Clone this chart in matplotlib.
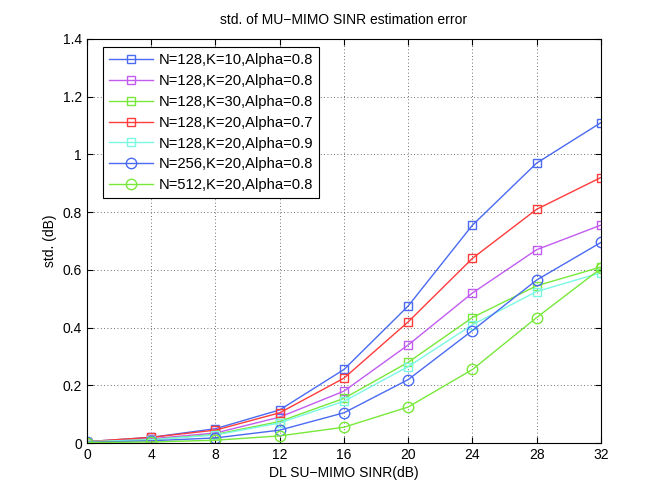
import matplotlib
matplotlib.use("Agg")
import matplotlib.pyplot as plt

plt.rcParams['font.family'] = ['Liberation Sans', 'DejaVu Sans']

snr = [0, 4, 8, 12, 16, 20, 24, 28, 32]
labels = ["N=128,K=10,Alpha=0.8", "N=128,K=20,Alpha=0.8", "N=128,K=30,Alpha=0.8",
          "N=128,K=20,Alpha=0.7", "N=128,K=20,Alpha=0.9", "N=256,K=20,Alpha=0.8",
          "N=512,K=20,Alpha=0.8"]
s1 = [0.005, 0.020, 0.050, 0.115, 0.255, 0.475, 0.755, 0.970, 1.110]
s2 = [0.005, 0.015, 0.035, 0.090, 0.180, 0.340, 0.520, 0.670, 0.755]
s3 = [0.005, 0.012, 0.030, 0.075, 0.155, 0.280, 0.435, 0.545, 0.610]
s4 = [0.005, 0.020, 0.045, 0.105, 0.225, 0.420, 0.640, 0.810, 0.920]
s5 = [0.005, 0.012, 0.028, 0.070, 0.145, 0.265, 0.410, 0.525, 0.590]
s6 = [0.003, 0.008, 0.018, 0.045, 0.105, 0.220, 0.390, 0.565, 0.695]
s7 = [0.002, 0.004, 0.010, 0.025, 0.055, 0.125, 0.255, 0.435, 0.605]
series = [s1, s2, s3, s4, s5, s6, s7]
colors = ['#4a6af2', '#c25cf0', '#78e83a', '#ff3b3b', '#7af8e4', '#4a6af2', '#78e83a']
markers = ['s', 's', 's', 's', 's', 'o', 'o']

fig = plt.figure(figsize=(6.64, 4.99), dpi=100)
ax = fig.add_axes([0.131, 0.112, 0.774, 0.810])
for y, c, m, l in zip(series, colors, markers, labels):
    ax.plot(snr, y, color=c, marker=m, markerfacecolor='none', markeredgecolor=c,
            markersize=6 if m == 's' else 7.5, linewidth=1.0, label=l)

ax.set_xlim(0, 32)
ax.set_ylim(0, 1.4)
ax.set_xticks(snr)
ax.set_yticks([0, 0.2, 0.4, 0.6, 0.8, 1.0, 1.2, 1.4])
ax.set_yticklabels(['0', '0.2', '0.4', '0.6', '0.8', '1', '1.2', '1.4'])
ax.grid(True, linestyle=(0, (1, 3)), color='#404040', linewidth=0.6)
ax.tick_params(direction='in', top=True, right=True, labelsize=10, length=4)
for sp in ax.spines.values():
    sp.set_linewidth(0.8)
ax.set_xlabel("DL SU\u2212MIMO SINR(dB)", fontsize=10, labelpad=3)
ax.set_ylabel("std. (dB)", fontsize=10)
ax.set_title("std. of MU\u2212MIMO SINR estimation error", fontsize=10, pad=11)
leg = ax.legend(loc='upper left', bbox_to_anchor=(0.031, 0.98), fontsize=10.6,
                fancybox=False, framealpha=1, edgecolor='black', borderpad=0.4,
                labelspacing=0.47, handlelength=3.0, handletextpad=0.4, borderaxespad=0)
leg.get_frame().set_linewidth(0.8)
fig.savefig("out.png", dpi=100)
